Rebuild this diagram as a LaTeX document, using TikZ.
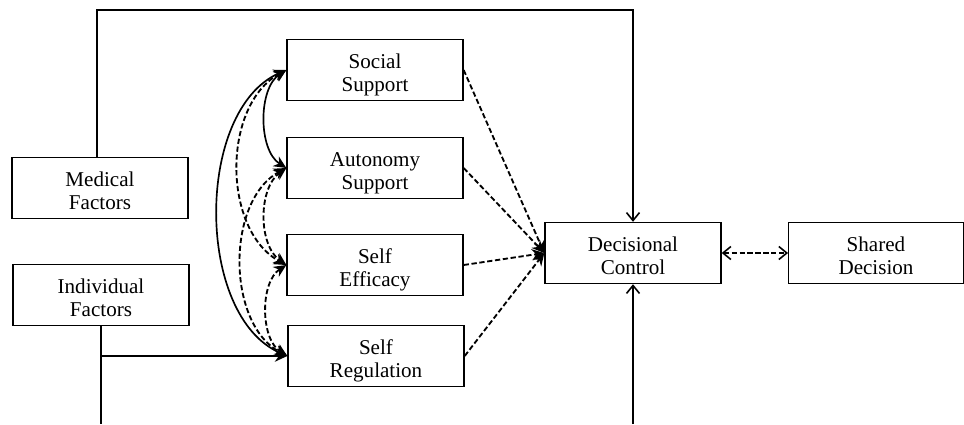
\documentclass[tikz,border=0pt]{standalone}
\usepackage{fontspec}
\setmainfont{Liberation Serif}
\usetikzlibrary{arrows.meta}
\newcommand{\twoline}[2]{\raisebox{-3pt}[\height][\depth]{\begin{tabular}{@{}c@{}}#1\\#2\end{tabular}}}
\begin{document}
\begin{tikzpicture}[x=0.02cm,y=-0.02cm,
  box/.style={draw, line width=0.8pt, minimum width=3.52cm, minimum height=1.22cm,
    align=center, inner sep=1pt, font=\fontsize{12}{13}\selectfont},
  solidline/.style={line width=0.95pt},
  dashline/.style={line width=1.05pt, dash pattern=on 3pt off 1.5pt},
  ftip/.style={-{Stealth[length=2.5mm,width=2.3mm]}},
  btip/.style={{Stealth[length=2.5mm,width=2.3mm]}-{Stealth[length=2.5mm,width=2.3mm]}},
  vtip/.style={-{Straight Barb[length=1.6mm,width=2.6mm,line width=0.9pt]}},
  bvtip/.style={{Straight Barb[length=1.6mm,width=2.6mm,line width=0.9pt]}-{Straight Barb[length=1.6mm,width=2.6mm,line width=0.9pt]}}
]
\useasboundingbox (0,0) rectangle (964,424);
\node[box] (ss) at (375,70) {\twoline{Social}{Support}};
\node[box] (as) at (375,168) {\twoline{Autonomy}{Support}};
\node[box] (se) at (375,265) {\twoline{Self}{Efficacy}};
\node[box] (sr) at (376,356) {\twoline{Self}{Regulation}};
\node[box] (mf) at (100,188) {\twoline{Medical}{Factors}};
\node[box] (if) at (101,295) {\twoline{Individual}{Factors}};
\node[box] (dc) at (633,253) {\twoline{Decisional}{Control}};
\node[box, minimum width=3.49cm] (sd) at (876,253) {\twoline{Shared}{Decision}};

\coordinate (t1) at (97,10);
\coordinate (t2) at (633,10);
\coordinate (b1) at (101,424);
\coordinate (b2) at (633,424);
\coordinate (br) at (101,356);

% top path
\draw[solidline, vtip] (mf.north -| t1) -- (t1) -- (t2) -- (dc.north);
% bottom paths
\draw[solidline] (if.south) -- (b1);
\draw[solidline, ftip] (br) -- (sr.west);
\draw[solidline, vtip] (b2) -- (dc.south);

% curved correlations
\draw[solidline, btip] (ss.west) .. controls (195,110) and (195,316) .. (sr.west);
\draw[solidline, btip] (ss.west) .. controls (258,88) and (258,150) .. (as.west);
\draw[dashline, btip] (ss.west) .. controls (222,105) and (222,230) .. (se.west);
\draw[dashline, btip] (as.west) .. controls (226,200) and (226,324) .. (sr.west);
\draw[dashline, btip] (as.west) .. controls (258,188) and (258,245) .. (se.west);
\draw[dashline, btip] (se.west) .. controls (260,282) and (260,339) .. (sr.west);

% paths to decisional control
\draw[dashline, ftip] (ss.east) -- (dc.west);
\draw[dashline, ftip] (as.east) -- (dc.west);
\draw[dashline, ftip] (se.east) -- (dc.west);
\draw[dashline, ftip] (sr.east) -- (dc.west);

\draw[dashline, bvtip] (dc.east) -- (sd.west);
\end{tikzpicture}
\end{document}
